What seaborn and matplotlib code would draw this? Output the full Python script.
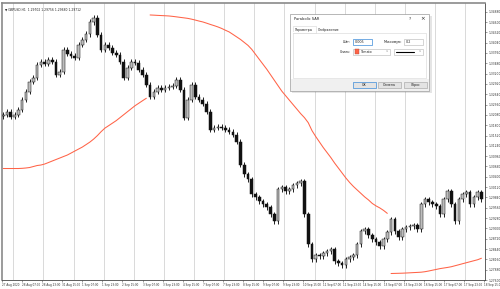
import numpy as np
import pandas as pd
import matplotlib
matplotlib.use("Agg")
import matplotlib.pyplot as plt
import seaborn as sns
from matplotlib.patches import Rectangle
from matplotlib.lines import Line2D

# ---------------- data (GBPUSD H1, one candle per 3 hours) ----------------
first_open = 1.32050
closes = [
    1.32086, 1.32167, 1.32032, 1.32086, 1.32221, 1.32492, 1.32708, 1.32979, 1.33087, 1.33439,
    1.33520, 1.33466, 1.33574, 1.33520, 1.33168, 1.33249, 1.33844, 1.33736, 1.33682, 1.33628,
    1.33980, 1.34115, 1.34277, 1.34602, 1.34710, 1.34250, 1.33844, 1.33980, 1.33899, 1.33763,
    1.33709, 1.33520, 1.33087, 1.33357, 1.33520, 1.33493, 1.33303, 1.33168, 1.32898, 1.32573,
    1.32708, 1.32816, 1.32762, 1.32816, 1.32843, 1.32870, 1.33033, 1.32762, 1.32005, 1.32492,
    1.32898, 1.32573, 1.32492, 1.32383, 1.32167, 1.31680, 1.31734, 1.31761, 1.31734, 1.31680,
    1.31626, 1.31545, 1.31355, 1.30733, 1.30463, 1.30327, 1.29922, 1.29840, 1.29732, 1.29651,
    1.29570, 1.29381, 1.29191, 1.30057, 1.30111, 1.30003, 1.30057, 1.30165, 1.30219, 1.30273,
    1.29381, 1.28569, 1.28163, 1.28271, 1.28244, 1.28326, 1.28380, 1.28434, 1.28109, 1.28055,
    1.28001, 1.28163, 1.28217, 1.28271, 1.28569, 1.28921, 1.28975, 1.28812, 1.28704, 1.28623,
    1.28515, 1.28704, 1.28894, 1.29245, 1.28921, 1.28758, 1.28975, 1.29029, 1.29056, 1.29083,
    1.28975, 1.29651, 1.29786, 1.29705, 1.29651, 1.29597, 1.29381, 1.29786, 1.30003, 1.29651,
    1.29191, 1.29786, 1.29922, 1.29976, 1.29651, 1.29840, 1.29976, 1.29786,
]
sar = [
    1.30625, 1.30625, 1.30625, 1.30625, 1.30625, 1.30630, 1.30639, 1.30652, 1.30679, 1.30706,
    1.30720, 1.30747, 1.30787, 1.30828, 1.30869, 1.30909, 1.30950, 1.30990, 1.31044, 1.31099,
    1.31153, 1.31207, 1.31274, 1.31342, 1.31423, 1.31518, 1.31626, 1.31721, 1.31788, 1.31856,
    1.31924, 1.32005, 1.32086, 1.32167, 1.32248, 1.32329, 1.32397, 1.32465, 1.32532,
    1.34791, 1.34786, 1.34780, 1.34775, 1.34770, 1.34764, 1.34753, 1.34740, 1.34726, 1.34713,
    1.34699, 1.34678, 1.34653, 1.34626, 1.34602, 1.34569, 1.34534, 1.34502, 1.34467, 1.34426,
    1.34377, 1.34331, 1.34264, 1.34196, 1.34128, 1.34047, 1.33966, 1.33858, 1.33723, 1.33587,
    1.33452, 1.33317, 1.33168, 1.33019, 1.32870, 1.32722, 1.32600, 1.32478, 1.32356, 1.32235,
    1.32113, 1.32005, 1.31869, 1.31653, 1.31491, 1.31342, 1.31193, 1.31058, 1.30923, 1.30774,
    1.30639, 1.30503, 1.30368, 1.30246, 1.30138, 1.30043, 1.29949, 1.29854, 1.29773, 1.29678,
    1.29611, 1.29556, 1.29489, 1.29408,
    1.27776, 1.27779, 1.27782, 1.27785, 1.27790, 1.27795, 1.27801, 1.27806, 1.27812, 1.27825,
    1.27844, 1.27866, 1.27887, 1.27909, 1.27925, 1.27941, 1.27960, 1.27987, 1.28014, 1.28042,
    1.28069, 1.28096, 1.28123, 1.28150, 1.28190,
]
x_labels = [
    "27 Aug 2020", "28 Aug 07:00", "28 Aug 23:00", "31 Aug 15:00", "1 Sep 07:00",
    "1 Sep 23:00", "2 Sep 15:00", "3 Sep 07:00", "3 Sep 23:00", "4 Sep 15:00",
    "7 Sep 07:00", "7 Sep 23:00", "8 Sep 15:00", "9 Sep 07:00", "9 Sep 23:00",
    "10 Sep 15:00", "11 Sep 07:00", "11 Sep 23:00", "14 Sep 15:00", "15 Sep 07:00",
    "15 Sep 23:00", "16 Sep 15:00", "17 Sep 07:00", "17 Sep 23:00", "18 Sep 15:00",
]
y_ticks = [
    1.34880, 1.34600, 1.34320, 1.34040, 1.33760, 1.33480, 1.33200, 1.32920, 1.32640,
    1.32360, 1.32080, 1.31800, 1.31520, 1.31240, 1.30960, 1.30680, 1.30400, 1.30120,
    1.29840, 1.29560, 1.29280, 1.29000, 1.28720, 1.28440, 1.28160, 1.27880, 1.27600,
]
header_text = "GBPUSD,H1  1.29702 1.29756 1.29680 1.29712"
dialog_title = "Parabolic SAR"
tab_names = ["Параметры", "Отображение"]
step_value = "0.005"
max_value = "0.2"
color_name = "Tomato"
button_names = ["OK", "Отмена", "Сброс"]

# ---------------- build frames ----------------
opens = [first_open] + closes[:-1]
df = pd.DataFrame({"k": np.arange(len(closes)), "open": opens, "close": closes, "sar": sar})
WICK = 0.0007
df["high"] = df[["open", "close"]].max(axis=1) + WICK
df["low"] = df[["open", "close"]].min(axis=1) - WICK
df["above"] = df["sar"] > df["close"]
df["seg"] = (df["above"] != df["above"].shift()).cumsum()

# ---------------- figure ----------------
sns.set_style("white")
plt.rcParams["font.family"] = ["DejaVu Sans"]
W, H = 500, 289
fig = plt.figure(figsize=(W / 100, H / 100), dpi=100)
fig.patch.set_facecolor("white")
ax = fig.add_axes([2 / W, 1 - 280 / H, 483 / W, 277 / H])
ax.set_facecolor("white")

HOURS_PER_CANDLE = 3
ax.set_xlim(-0.335, 127.95)
ax.set_ylim(1.27622, 1.35116)

# vertical day grid (midnights)
day_k = (np.arange(9, 384, 24) - 1) / HOURS_PER_CANDLE
ax.set_xticks(day_k, minor=True)
ax.grid(which="minor", axis="x", color="#a8a8a8", lw=0.6, ls=(0, (1.2, 1.2)))
ax.grid(which="major", visible=False)

# candles
up = df["close"] >= df["open"]
ax.vlines(df["k"], df["low"], df["high"], color="#202020", lw=0.7, zorder=2)
ax.bar(df["k"], (df["close"] - df["open"]).abs().clip(lower=0.00006),
       bottom=df[["open", "close"]].min(axis=1), width=0.7,
       color=np.where(up, "#bdbdbd", "#111111"), edgecolor="#111111", lw=0.35, zorder=3)

# parabolic SAR
sns.lineplot(data=df, x="k", y="sar", units="seg", estimator=None, color="#FF6347",
             lw=0.75, ax=ax, legend=False, zorder=4)

# axis ticks
label_k = (np.arange(len(x_labels)) * 16 - 1) / HOURS_PER_CANDLE
ax.set_xticks(label_k)
ax.set_xticklabels(x_labels, fontsize=1.95, color="#333333", ha="left")
ax.tick_params(axis="x", which="major", length=1.6, width=0.4, color="#555555", pad=0.6, bottom=True)
ax.tick_params(axis="x", which="minor", length=0)
for lbl in ax.get_xticklabels():
    lbl.set_x(lbl.get_position()[0])
ax.yaxis.tick_right()
ax.set_yticks(y_ticks)
ax.set_yticklabels([f"{v:.5f}" for v in y_ticks], fontsize=2.2, color="#333333")
ax.tick_params(axis="y", length=1.5, width=0.4, color="#555555", pad=1.0, right=True)
ax.set_xlabel("")
ax.set_ylabel("")
for s in ["top", "left"]:
    ax.spines[s].set_color("#8a8a8a")
    ax.spines[s].set_linewidth(1.2)
for s in ["bottom", "right"]:
    ax.spines[s].set_color("#444444")
    ax.spines[s].set_linewidth(0.6)

# header
ax.text(0.006, 0.985, "▼ " + header_text, transform=ax.transAxes, fontsize=2.2,
        color="#222222", ha="left", va="top")

# ---------------- dialog overlay (pixel helpers) ----------------
def fx(x):
    return x / W

def fy(y):
    return 1 - y / H

def rect(x0, y0, x1, y1, **kw):
    fig.add_artist(Rectangle((fx(x0), fy(y1)), (x1 - x0) / W, (y1 - y0) / H,
                             transform=fig.transFigure, **kw))

def txt(x, y, s, size=2.8, ha="left", color="#222222"):
    fig.text(fx(x), fy(y), s, fontsize=size, ha=ha, va="center", color=color, zorder=30)

rect(291.5, 15.5, 431.5, 93, fc="black", ec="none", alpha=0.10, zorder=10)
rect(290, 14, 429, 91, fc="white", ec="#9a9a9a", lw=0.5, zorder=11)
txt(294, 19, dialog_title, 2.6)
txt(409, 19, "?", 3.0)
txt(422.5, 19, "×", 4.0, ha="center")
rect(293, 32.5, 426, 78, fc="white", ec="#d4d4d4", lw=0.4, zorder=12)
rect(293, 26.5, 316, 33, fc="white", ec="#d4d4d4", lw=0.4, zorder=13)
rect(293.3, 32, 315.7, 33.3, fc="white", ec="none", zorder=14)
txt(294.5, 29.7, tab_names[0], 2.2)
txt(317.5, 29.7, tab_names[1], 2.2)
txt(351, 41.6, "Шаг:", 2.3, ha="right")
rect(353, 38.5, 372, 44.5, fc="white", ec="#3c8bd9", lw=0.5, zorder=13)
txt(354.3, 41.6, step_value, 2.4)
txt(402.5, 41.6, "Максимум:", 2.3, ha="right")
rect(404, 38.5, 423, 44.5, fc="white", ec="#b5b5b5", lw=0.4, zorder=13)
txt(405.3, 41.6, max_value, 2.4)
txt(351, 51.6, "Стиль:", 2.3, ha="right")
rect(353, 48.5, 390, 54.5, fc="white", ec="#b5b5b5", lw=0.4, zorder=13)
rect(354.5, 49.5, 358.8, 53.6, fc="#FF6347", ec="#b05040", lw=0.3, zorder=14)
txt(360.5, 51.6, color_name, 2.3)
txt(387, 51.4, "∨", 2.2, ha="center", color="#777777")
rect(394, 48.5, 423, 54.5, fc="white", ec="#b5b5b5", lw=0.4, zorder=13)
fig.add_artist(Line2D([fx(396), fx(414)], [fy(51.5), fy(51.5)], color="black", lw=0.8,
                      transform=fig.transFigure, zorder=15))
txt(419.5, 51.4, "∨", 2.2, ha="center", color="#777777")
rect(290.5, 79, 428.5, 90.5, fc="#f0f0f0", ec="none", zorder=12)
btn_x = [(353, 376), (378, 401), (404, 427)]
for (b0, b1), name, edge in zip(btn_x, button_names, ["#3c8bd9", "#adadad", "#adadad"]):
    rect(b0, 82, b1, 88, fc="#e3e3e3", ec=edge, lw=0.5, zorder=13)
    txt((b0 + b1) / 2, 85.1, name, 2.3, ha="center")

fig.savefig("out.png", dpi=100, facecolor="white")
